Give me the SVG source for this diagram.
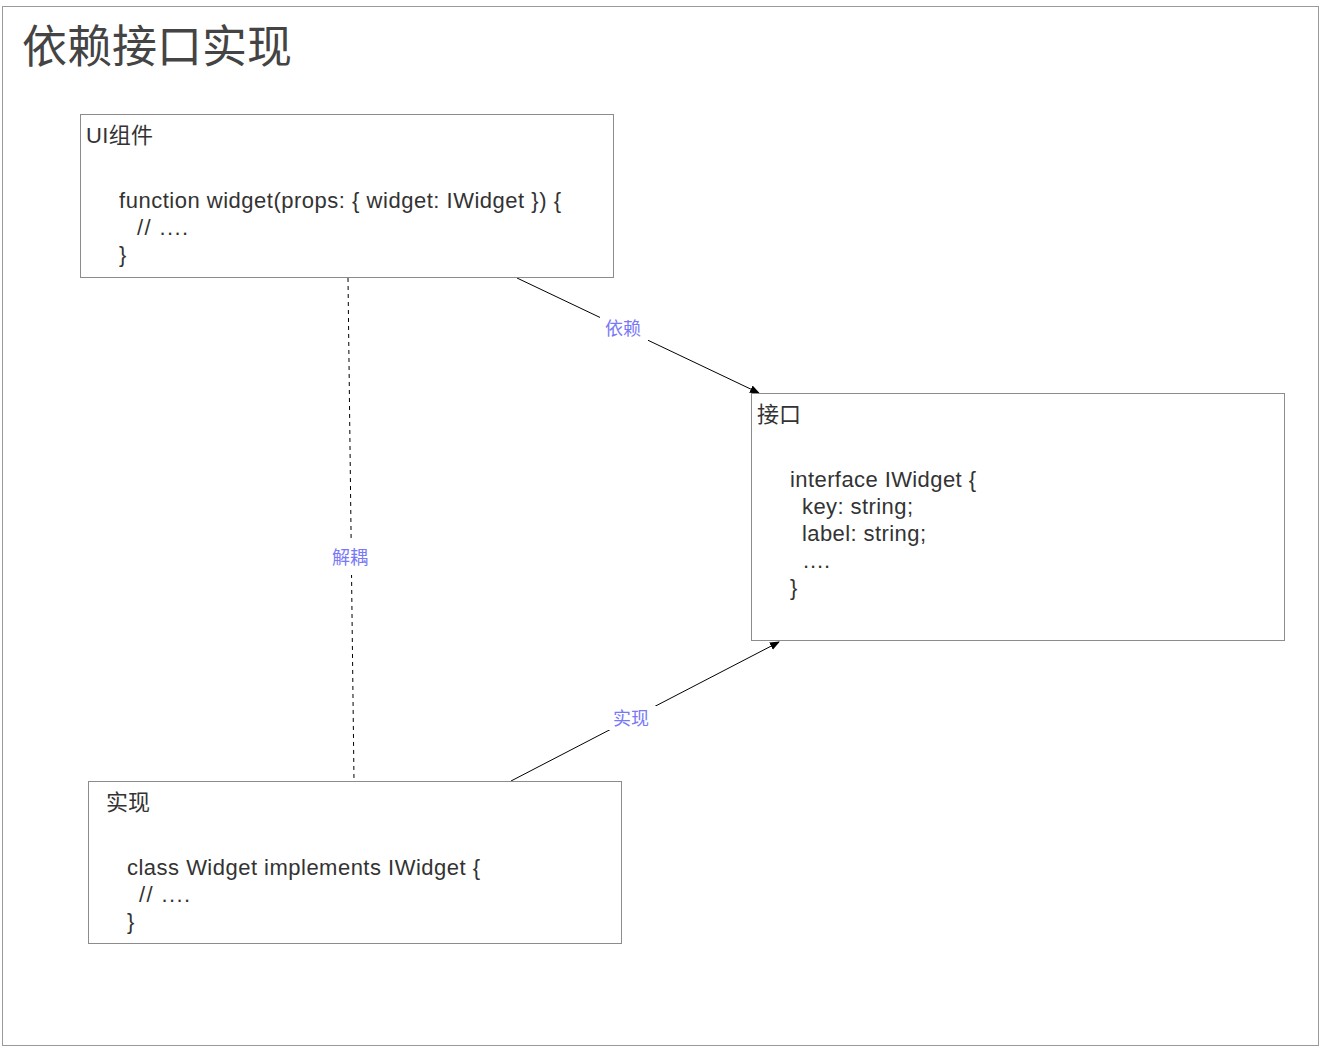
<svg xmlns="http://www.w3.org/2000/svg" width="1326" height="1050" viewBox="0 0 1326 1050">
<style>
.frame{fill:#fff;stroke:#9a9a9a;stroke-width:1}
.box{fill:#fff;stroke:#8c8c8c;stroke-width:1}
.t{font-family:"Liberation Sans","Noto Sans CJK SC",sans-serif;font-size:22px;fill:#333}
.h{font-family:"Liberation Sans","Noto Sans CJK SC",sans-serif;font-size:22px;fill:#333}
.title{font-family:"Liberation Sans","Noto Sans CJK SC",sans-serif;font-size:45px;fill:#444}
.edge{stroke:#000;stroke-width:1;fill:none}
.lbl{font-family:"Liberation Sans","Noto Sans CJK SC",sans-serif;font-size:18px;fill:#7878f8;text-anchor:middle}
</style>
<defs>
<marker id="arr" viewBox="0 0 10 10" refX="9" refY="5" markerWidth="10" markerHeight="10" markerUnits="userSpaceOnUse" orient="auto">
<path d="M0,1 L10,5 L0,9 Z" fill="#000"/>
</marker>
</defs>
<rect class="frame" x="2.5" y="6.5" width="1316" height="1039"/>
<text class="title" x="22" y="63">依赖接口实现</text>
<g id="connectors">
<line class="edge" x1="517" y1="278" x2="759" y2="393" marker-end="url(#arr)"/>
<line class="edge" x1="348" y1="278" x2="354" y2="781" stroke-dasharray="4 4"/>
<line class="edge" x1="511" y1="781" x2="779" y2="642" marker-end="url(#arr)"/>
<rect x="600" y="317" width="48" height="24" fill="#fff"/>
<text class="lbl" x="623" y="335">依赖</text>
<rect x="326" y="539" width="48" height="36" fill="#fff"/>
<text class="lbl" x="350" y="564">解耦</text>
<rect x="606" y="706" width="50" height="24" fill="#fff"/>
<text class="lbl" x="631" y="725">实现</text>
</g>
<g id="ui">
<rect class="box" x="80.5" y="114.5" width="533" height="163"/>
<text class="h" x="86" y="143" textLength="67" lengthAdjust="spacing">UI组件</text>
<text class="t" x="119" y="208" textLength="442" lengthAdjust="spacing">function widget(props: { widget: IWidget }) {</text>
<text class="t" x="137" y="235" textLength="51" lengthAdjust="spacing">// ....</text>
<text class="t" x="119" y="262">}</text>
</g>
<g id="iface">
<rect class="box" x="751.5" y="393.5" width="533" height="247"/>
<text class="h" x="757" y="422">接口</text>
<text class="t" x="790" y="487" textLength="186" lengthAdjust="spacing">interface IWidget {</text>
<text class="t" x="802" y="514" textLength="111" lengthAdjust="spacing">key: string;</text>
<text class="t" x="802" y="541" textLength="124" lengthAdjust="spacing">label: string;</text>
<text class="t" x="803" y="568" textLength="27" lengthAdjust="spacing">....</text>
<text class="t" x="790" y="595">}</text>
</g>
<g id="impl">
<rect class="box" x="88.5" y="781.5" width="533" height="162"/>
<text class="h" x="106" y="810">实现</text>
<text class="t" x="127" y="875" textLength="353" lengthAdjust="spacing">class Widget implements IWidget {</text>
<text class="t" x="139" y="902" textLength="51" lengthAdjust="spacing">// ....</text>
<text class="t" x="127" y="929">}</text>
</g>
</svg>
